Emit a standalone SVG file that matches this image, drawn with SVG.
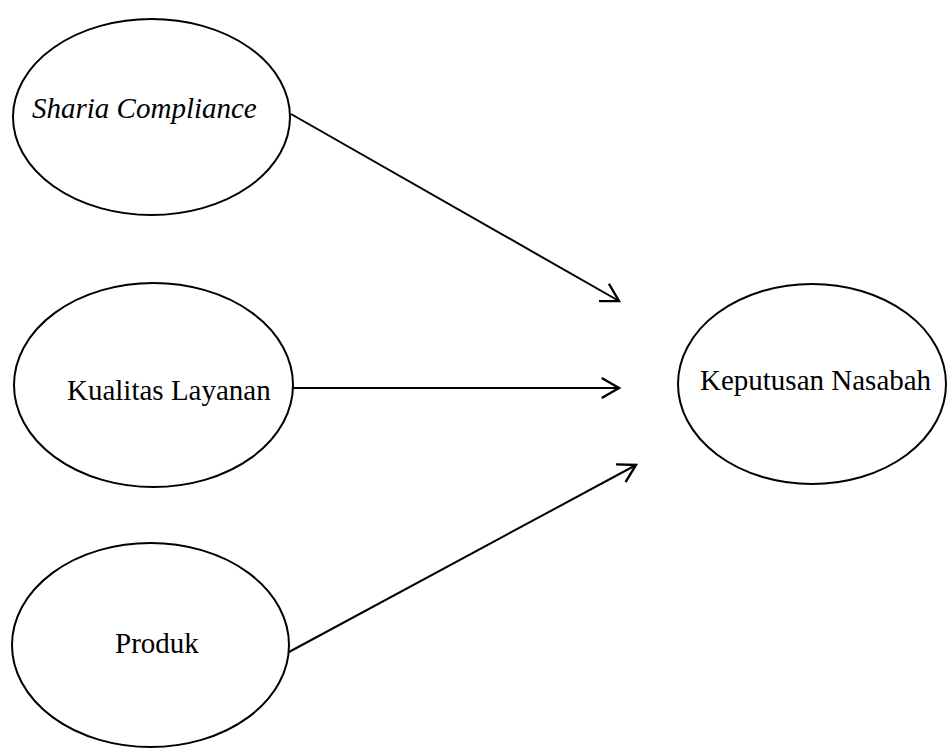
<svg xmlns="http://www.w3.org/2000/svg" width="947" height="749" viewBox="0 0 947 749">
<style>
.node ellipse{fill:#fff;stroke:#000;stroke-width:2}
.node text{font-family:"Liberation Serif","Times New Roman",serif;font-size:29px;fill:#000}
.conn line{stroke:#000;stroke-width:2;fill:none}
</style>
<defs>
<marker id="arr" markerUnits="userSpaceOnUse" markerWidth="40" markerHeight="40" viewBox="-20 -20 40 40" refX="0" refY="0" orient="auto" overflow="visible">
<path d="M-17.3,-10 L0,0 L-17.3,10" fill="none" stroke="#000" stroke-width="2.4"/>
</marker>
</defs>
<rect width="947" height="749" fill="#fff"/>
<g id="connectors" class="conn">
<line x1="291" y1="114" x2="619" y2="301" marker-end="url(#arr)"/>
<line x1="293" y1="388" x2="619" y2="388" marker-end="url(#arr)"/>
<line x1="289" y1="652" x2="636" y2="465" marker-end="url(#arr)"/>
</g>
<g id="sharia" class="node">
<ellipse cx="151.5" cy="117" rx="138.5" ry="98"/>
<text x="32" y="118" font-style="italic">Sharia Compliance</text>
</g>
<g id="kualitas" class="node">
<ellipse cx="153.5" cy="385" rx="139.5" ry="102"/>
<text x="67" y="400">Kualitas Layanan</text>
</g>
<g id="produk" class="node">
<ellipse cx="150.5" cy="645" rx="138.5" ry="102"/>
<text x="115" y="653">Produk</text>
</g>
<g id="keputusan" class="node">
<ellipse cx="812" cy="384" rx="134" ry="100"/>
<text x="700" y="390">Keputusan Nasabah</text>
</g>
</svg>
